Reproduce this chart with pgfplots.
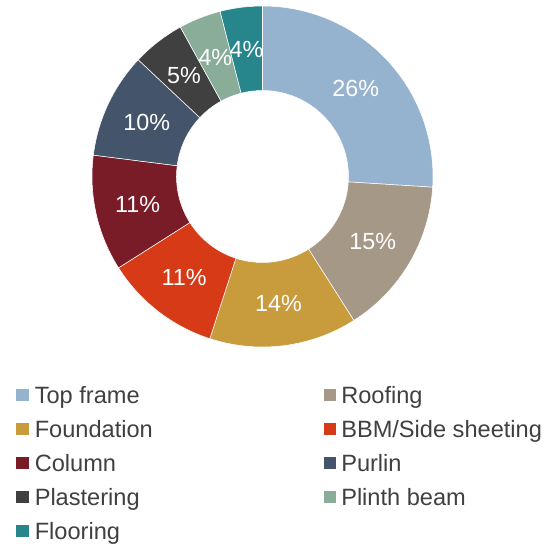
\documentclass[border=0pt]{standalone}
\usepackage{fontspec}
\setmainfont{Liberation Sans}
\usepackage{pgfplots}
\usepackage{pgfplotstable}
\pgfplotsset{compat=1.18}
\definecolor{cTop}{RGB}{149,179,207}
\definecolor{cRoof}{RGB}{166,152,134}
\definecolor{cFound}{RGB}{200,155,60}
\definecolor{cBBM}{RGB}{214,58,22}
\definecolor{cCol}{RGB}{122,28,40}
\definecolor{cPurl}{RGB}{68,84,106}
\definecolor{cPlas}{RGB}{64,64,64}
\definecolor{cPlin}{RGB}{138,173,154}
\definecolor{cFloor}{RGB}{39,134,140}
\definecolor{legtext}{RGB}{64,64,64}
\pgfplotstableread[col sep=comma,row sep=\\]{
label,value,colname\\
Top frame,26,cTop\\
Roofing,15,cRoof\\
Foundation,14,cFound\\
BBM/Side sheeting,11,cBBM\\
Column,11,cCol\\
Purlin,10,cPurl\\
Plastering,5,cPlas\\
Plinth beam,4,cPlin\\
Flooring,4,cFloor\\
}\datatable
\def\Ro{127.875pt}
\def\Ri{64.5pt}
\def\Rm{96pt}
\begin{document}
\begin{tikzpicture}
\begin{axis}[hide axis, scale only axis, width=415.5pt, height=410.25pt,
  xmin=0, xmax=554, ymin=-547, ymax=0, clip=false]
\pgfplotsextra{
  \path (axis cs:0,-547) rectangle (axis cs:554,0);
  \xdef\cum{0}
  \foreach \i in {0,...,8}{
    \pgfplotstablegetelem{\i}{value}\of\datatable \let\val\pgfplotsretval
    \pgfplotstablegetelem{\i}{colname}\of\datatable \edef\colname{\pgfplotsretval}
    \pgfmathsetmacro\angA{90-3.6*\cum}
    \pgfmathsetmacro\angB{90-3.6*(\cum+\val)}
    \fill[\colname, draw=white, line width=0.4pt]
      ([shift={(\angA:\Ro)}]axis cs:262.5,-176.5) arc[start angle=\angA, end angle=\angB, radius=\Ro]
      -- ([shift={(\angB:\Ri)}]axis cs:262.5,-176.5) arc[start angle=\angB, end angle=\angA, radius=\Ri] -- cycle;
    \pgfmathsetmacro\nc{\cum+\val}\xdef\cum{\nc}
  }
  \xdef\cum{0}
  \foreach \i in {0,...,8}{
    \pgfplotstablegetelem{\i}{value}\of\datatable \let\val\pgfplotsretval
    \pgfmathsetmacro\angM{90-3.6*(\cum+\val/2)}
    \node[text=white, inner sep=0pt, font=\fontsize{17.5}{20}\selectfont]
      at ([shift={(\angM:\Rm)}]axis cs:262.5,-176.5) {\val\%};
    \pgfmathsetmacro\nc{\cum+\val}\xdef\cum{\nc}
  }
  \foreach \i in {0,...,8}{
    \pgfplotstablegetelem{\i}{label}\of\datatable \edef\lab{\pgfplotsretval}
    \pgfplotstablegetelem{\i}{colname}\of\datatable \edef\colname{\pgfplotsretval}
    \pgfmathtruncatemacro\cc{mod(\i,2)}
    \pgfmathtruncatemacro\rr{floor(\i/2)}
    \pgfmathsetmacro\mx{16+307.5*\cc}
    \pgfmathsetmacro\tx{34.5+306.5*\cc}
    \pgfmathsetmacro\my{-(395+34*\rr)}
    \pgfmathsetmacro\by{\my-8.4}
    \fill[\colname] ([shift={(0pt,-4.7pt)}]axis cs:\mx,\my) rectangle ++(9.4pt,9.4pt);
    \node[anchor=base west, inner sep=0pt, text=legtext, font=\fontsize{17.7}{21}\selectfont]
      at (axis cs:\tx,\by) {\lab};
  }
}
\end{axis}
\end{tikzpicture}
\end{document}
